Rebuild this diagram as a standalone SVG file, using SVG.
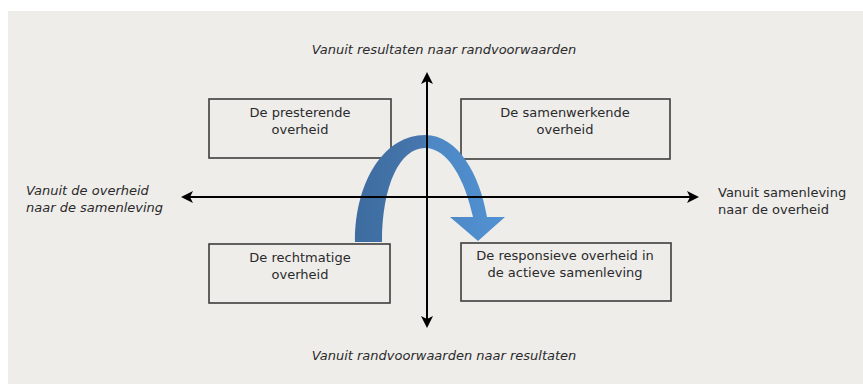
<svg xmlns="http://www.w3.org/2000/svg" width="863" height="384" viewBox="0 0 863 384">
<style>
.bg{fill:#eeedea}
.box{fill:none;stroke:#3c3c3c;stroke-width:1.6}
.t{font-family:"DejaVu Sans",Verdana,sans-serif;font-size:13px;fill:#2a2a2a}
.i{font-style:italic}
.ax{stroke:#000;stroke-width:2;fill:none}
</style>
<defs>
<marker id="ah" viewBox="0 0 12 12" refX="10" refY="6" markerWidth="6" markerHeight="6" orient="auto" markerUnits="strokeWidth">
<path d="M0,0 L12,6 L0,12 L3,6 Z" fill="#000"/>
</marker>
<linearGradient id="ag" x1="355" y1="0" x2="505" y2="0" gradientUnits="userSpaceOnUse">
<stop offset="0" stop-color="#3d6c9f"/>
<stop offset="0.45" stop-color="#4676ad"/>
<stop offset="0.5" stop-color="#4d87c4"/>
<stop offset="1" stop-color="#5291d2"/>
</linearGradient>
</defs>
<rect x="0" y="0" width="863" height="384" fill="#fff"/>
<rect class="bg" x="8" y="11" width="855" height="373"/>
<g id="box-presterende">
<rect class="box" x="209" y="99" width="182" height="59"/>
<text class="t" x="300" y="117" text-anchor="middle">De presterende</text>
<text class="t" x="300" y="134" text-anchor="middle">overheid</text>
</g>
<g id="box-samenwerkende">
<rect class="box" x="461" y="99" width="209" height="60"/>
<text class="t" x="565" y="117" text-anchor="middle">De samenwerkende</text>
<text class="t" x="565" y="134" text-anchor="middle">overheid</text>
</g>
<g id="box-rechtmatige">
<rect class="box" x="209" y="244" width="181" height="59"/>
<text class="t" x="300" y="262" text-anchor="middle">De rechtmatige</text>
<text class="t" x="300" y="279" text-anchor="middle">overheid</text>
</g>
<g id="box-responsieve">
<rect class="box" x="461" y="243" width="210" height="58"/>
<text class="t" x="565" y="260" text-anchor="middle">De responsieve overheid in</text>
<text class="t" x="565" y="277" text-anchor="middle">de actieve samenleving</text>
</g>
<g id="curved-arrow">
<path d="M355,242 C355,180 385,135 425,135 C458,135 480,175 487,217 L505,217 L478,241 L450,217 L473,217 C465,180 448,148 425,148 C400,148 382,185 382,242 Z" fill="url(#ag)"/>
</g>
<g id="connectors">
<line class="ax" x1="427" y1="326" x2="427" y2="74" marker-end="url(#ah)"/>
<line class="ax" x1="427" y1="74" x2="427" y2="326" marker-end="url(#ah)"/>
<line class="ax" x1="697" y1="197" x2="183" y2="197" marker-end="url(#ah)"/>
<line class="ax" x1="183" y1="197" x2="697" y2="197" marker-end="url(#ah)"/>
</g>
<g id="labels">
<text class="t i" x="444" y="54" text-anchor="middle">Vanuit resultaten naar randvoorwaarden</text>
<text class="t i" x="444" y="360" text-anchor="middle">Vanuit randvoorwaarden naar resultaten</text>
<text class="t i" x="26" y="195">Vanuit de overheid</text>
<text class="t i" x="26" y="212">naar de samenleving</text>
<text class="t" x="718" y="197">Vanuit samenleving</text>
<text class="t" x="718" y="214">naar de overheid</text>
</g>
</svg>
